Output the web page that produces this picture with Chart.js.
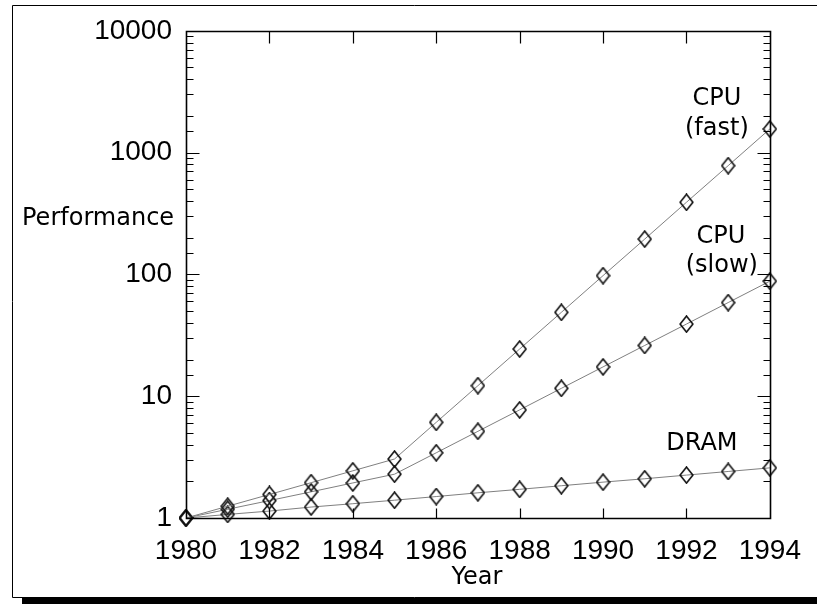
<!DOCTYPE html>
<html>
<head>
<meta charset="utf-8">
<script src="https://cdn.jsdelivr.net/npm/chart.js@4.4.0/dist/chart.umd.min.js"></script>
<style>
html,body{margin:0;padding:0;background:#fff;}
#wrap{width:817px;height:604px;position:relative;}
canvas{display:block;}
</style>
</head>
<body>
<div id="wrap"><canvas id="c" width="817" height="604"></canvas></div>
<script>
// ---- data ----
const years   = [1980,1981,1982,1983,1984,1985,1986,1987,1988,1989,1990,1991,1992,1993,1994];
const cpuFast = [1, 1.25, 1.56, 1.95, 2.44, 3.05, 6.1, 12.2, 24.4, 48.8, 97.7, 195, 391, 781, 1563];
const cpuSlow = [1, 1.18, 1.39, 1.64, 1.94, 2.29, 3.43, 5.15, 7.72, 11.6, 17.4, 26.1, 39.1, 58.7, 88];
const dram    = [1, 1.07, 1.14, 1.23, 1.31, 1.40, 1.50, 1.61, 1.72, 1.84, 1.97, 2.10, 2.25, 2.41, 2.58];
const xTickLabels = [1980,1982,1984,1986,1988,1990,1992,1994];
const yTickLabels = [1,10,100,1000,10000];
const seriesNames = [['CPU','(fast)'],['CPU','(slow)'],['DRAM']];
const xTitle = 'Year';
const yTitle = 'Performance';

// ---- styling ----
const LINE_COLOR = '#808080';
const TICK_FONT = {family:'"Liberation Sans", Arial, sans-serif', size:28};
const TEXT_FONT = '24px "DejaVu Sans", sans-serif';

function makeDiamond(){
  const c = document.createElement('canvas');
  c.width = 15; c.height = 18;
  const g = c.getContext('2d');
  g.strokeStyle = '#111';
  g.lineWidth = 1.6;
  g.beginPath();
  g.moveTo(7.5,1); g.lineTo(13.9,9); g.lineTo(7.5,17); g.lineTo(1.1,9);
  g.closePath(); g.stroke();
  return c;
}
const diamond = makeDiamond();

const toXY = arr => arr.map((v,i)=>({x:years[i], y:v}));
function ds(name, arr){
  return {
    label: name, data: toXY(arr),
    borderColor: LINE_COLOR, borderWidth: 1, tension: 0,
    pointStyle: diamond, pointRadius: 7, pointHoverRadius: 7,
    fill: false, clip: false
  };
}

const isDecade = v => Math.abs(Math.log10(v) - Math.round(Math.log10(v))) < 1e-9;

const decor = {
  id: 'decor',
  beforeDraw(chart){
    const ctx = chart.ctx;
    ctx.save();
    ctx.fillStyle = '#fff';
    ctx.fillRect(0,0,chart.width,chart.height);
    // page frame with drop shadow
    ctx.strokeStyle = '#000'; ctx.lineWidth = 1;
    ctx.beginPath();
    ctx.moveTo(12.5, 597.5); ctx.lineTo(12.5, 5.5); ctx.lineTo(chart.width, 5.5);
    ctx.moveTo(12.5, 597.5); ctx.lineTo(chart.width, 597.5);
    ctx.stroke();
    ctx.fillStyle = '#000';
    ctx.fillRect(22, 598, chart.width-22, 6);
    ctx.restore();
  },
  afterDraw(chart){
    const ctx = chart.ctx, a = chart.chartArea;
    const xs = chart.scales.x, ys = chart.scales.y;
    const L = Math.round(a.left)+0.5, R = Math.round(a.right)+0.5;
    const T = Math.round(a.top)+0.5, B = Math.round(a.bottom)+0.5;
    ctx.save();
    ctx.strokeStyle = '#000'; ctx.lineWidth = 1.6;
    ctx.beginPath();
    ctx.rect(L, T, R-L, B-T);
    ctx.stroke();
    ctx.lineWidth = 1.2;
    ctx.beginPath();
    // y ticks (inward, both sides)
    ys.ticks.forEach(t=>{
      const p = Math.round(ys.getPixelForValue(t.value))+0.5;
      const len = isDecade(t.value) ? 13 : 7;
      ctx.moveTo(L, p); ctx.lineTo(L+len, p);
      ctx.moveTo(R, p); ctx.lineTo(R-len, p);
    });
    // x ticks (inward, top and bottom)
    xs.ticks.forEach(t=>{
      if (t.value <= xs.min || t.value >= xs.max) return;
      const p = Math.round(xs.getPixelForValue(t.value))+0.5;
      ctx.moveTo(p, B); ctx.lineTo(p, B-10);
      ctx.moveTo(p, T); ctx.lineTo(p, T+12);
    });
    ctx.stroke();

    // series annotations anchored to the last point of each series
    ctx.fillStyle = '#000';
    ctx.font = TEXT_FONT;
    ctx.textAlign = 'center';
    ctx.textBaseline = 'middle';
    const offs = [
      [[-53,-30],[-53,0]],
      [[-49,-44],[-48,-15]],
      [[-68,-24]]
    ];
    seriesNames.forEach((lines,i)=>{
      const meta = chart.getDatasetMeta(i);
      const last = meta.data[meta.data.length-1];
      lines.forEach((txt,j)=>{
        ctx.fillText(txt, last.x + offs[i][j][0], last.y + offs[i][j][1]);
      });
    });
    // axis titles
    ctx.fillText(xTitle, (a.left+a.right)/2 - 1, 578);
    ctx.textAlign = 'left';
    ctx.textBaseline = 'alphabetic';
    ctx.fillText(yTitle, 22, 225);
    ctx.restore();
  }
};

new Chart(document.getElementById('c'), {
  type: 'line',
  data: { datasets: [ ds('CPU (fast)', cpuFast), ds('CPU (slow)', cpuSlow), ds('DRAM', dram) ] },
  options: {
    responsive: false,
    animation: false,
    devicePixelRatio: 1,
    layout: { padding: { left: 0, right: 44, top: 29, bottom: 0 } },
    plugins: { legend: {display:false}, tooltip: {enabled:false}, title:{display:false} },
    events: [],
    scales: {
      x: {
        type: 'linear', min: 1980, max: 1994,
        grid: { display: false, drawTicks: false },
        border: { display: false },
        ticks: {
          stepSize: 2, autoSkip: false, maxRotation: 0, minRotation: 0,
          color: '#000', font: TICK_FONT, padding: 16,
          callback: v => xTickLabels.includes(v) ? String(v) : ''
        },
        afterFit: s => { s.height = 86; }
      },
      y: {
        type: 'logarithmic', min: 1, max: 10000,
        grid: { display: false, drawTicks: false },
        border: { display: false },
        ticks: {
          autoSkip: false, color: '#000', font: TICK_FONT, padding: 14,
          callback: v => (isDecade(v) && yTickLabels.includes(Math.round(v))) ? String(Math.round(v)) : ''
        },
        afterFit: s => { s.width = 186; }
      }
    }
  },
  plugins: [decor]
});
</script>
</body>
</html>
